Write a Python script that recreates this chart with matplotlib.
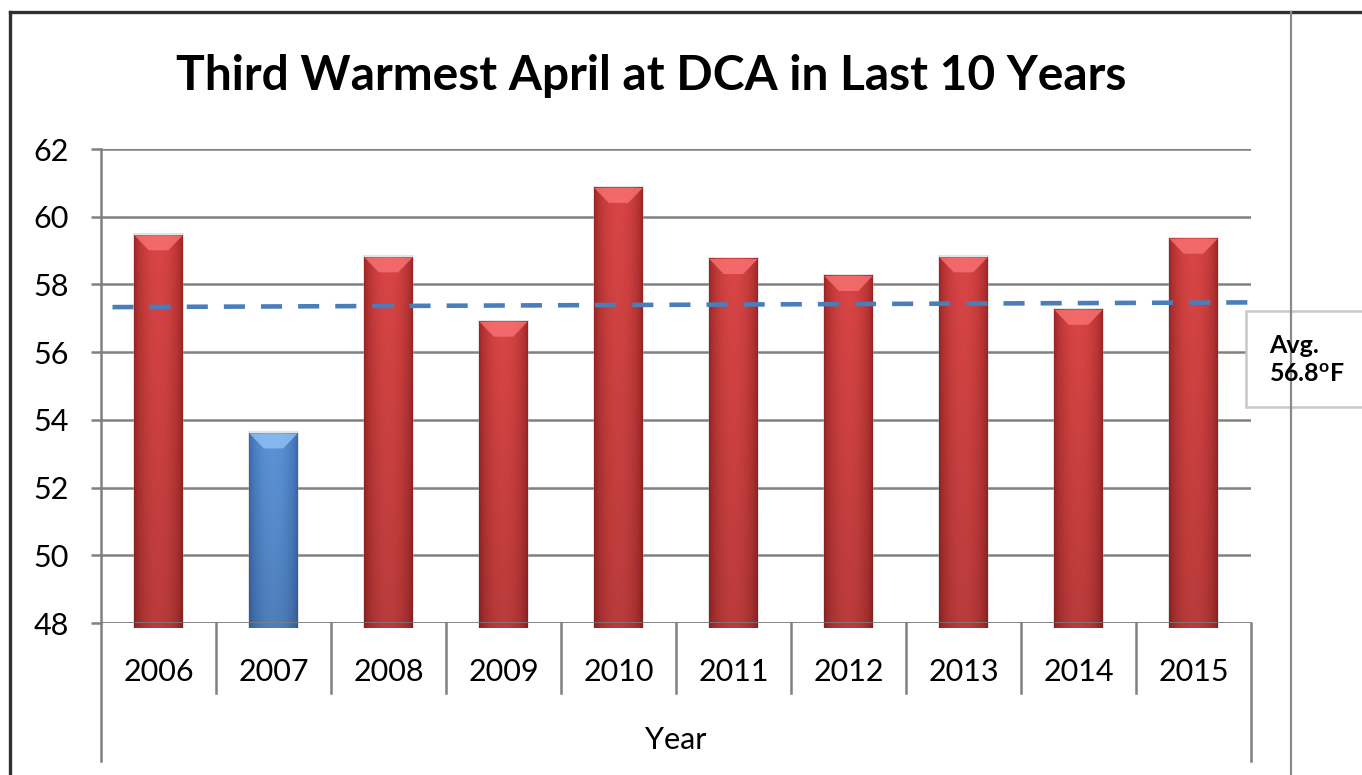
import numpy as np
import matplotlib
matplotlib.use("Agg")
import matplotlib.pyplot as plt
from matplotlib.patches import Rectangle, Polygon
from matplotlib.lines import Line2D
import matplotlib.transforms as mtransforms

plt.rcParams['font.family'] = ['Lato', 'DejaVu Sans']

# data
years = ['2006', '2007', '2008', '2009', '2010', '2011', '2012', '2013', '2014', '2015']
temps = [59.45, 53.6, 58.8, 56.9, 60.85, 58.75, 58.25, 58.8, 57.25, 59.35]
highlight = '2007'
trend_x = [-0.4, 9.53]
trend_y = [57.33, 57.47]
avg_text = 'Avg.\n56.8$^\\mathregular{o}$F'
y_ticks = [48, 50, 52, 54, 56, 58, 60, 62]

W, H = 1362, 775
fig = plt.figure(figsize=(W / 100, H / 100), dpi=100)
ax = fig.add_axes([101 / W, 1 - 623 / H, (1251 - 101) / W, (623 - 149) / H])

red_c = dict(center=np.array([0.85, 0.27, 0.27]), edge=np.array([0.60, 0.14, 0.14]),
             bevel=np.array([0.98, 0.45, 0.45]))
blue_c = dict(center=np.array([0.36, 0.58, 0.85]), edge=np.array([0.22, 0.40, 0.66]),
              bevel=np.array([0.56, 0.76, 0.96]))

def gradient_img(c):
	u = np.linspace(0, 1, 60)
	v = np.linspace(0, 1, 100)[:, None]		# 0 = bottom, 1 = top
	prof = np.sin(np.pi * u) ** 0.6
	img = c['edge'][None, None, :] + (c['center'] - c['edge'])[None, None, :] * prof[None, :, None]
	shade = 0.86 + 0.14 * v			# a bit darker near the base
	img = img * shade[:, :, None]
	return np.clip(img[::-1], 0, 1)

base = 47.85
width = 0.42
px_per_unit = (623 - 149) / 14.0
bars = ax.bar(range(len(years)), np.array(temps) - base, bottom=base, width=width,
              color='none', edgecolor='none', clip_on=False, zorder=3)
for i, (b, yr) in enumerate(zip(bars, years)):
	c = blue_c if yr == highlight else red_c
	x0, y0 = b.get_x(), b.get_y()
	w, h = b.get_width(), b.get_height()
	# soft shadow
	ax.add_patch(Rectangle((x0 - 0.012, y0), w + 0.024, h + 0.06, facecolor='#b0b0b0',
	                       alpha=0.35, edgecolor='none', zorder=2.5, clip_on=False))
	im = ax.imshow(gradient_img(c), extent=[x0, x0 + w, y0, y0 + h], aspect='auto',
	               zorder=3, interpolation='bilinear', clip_on=False)
	im.set_clip_path(b)
	bh = 15 / px_per_unit
	top = y0 + h
	ax.add_patch(Polygon([(x0, top), (x0 + w, top), (x0 + 0.7 * w, top - bh), (x0 + 0.3 * w, top - bh)],
	                     closed=True, facecolor=c['bevel'], edgecolor='none', alpha=0.8, zorder=3.2))

ax.set_xlim(-0.5, len(years) - 0.5)
ax.set_ylim(48, 62)

# gridlines
ax.set_yticks(y_ticks)
ax.yaxis.grid(True, color='#808080', linewidth=1.8)
ax.set_axisbelow(True)
for s in ['top', 'right', 'bottom']:
	ax.spines[s].set_visible(False)
ax.spines['left'].set_color('#808080')
ax.spines['left'].set_linewidth(1.8)
ax.tick_params(axis='y', length=7.2, width=1.8, color='#808080', pad=16, labelsize=22)
ax.axhline(48, color='#808080', linewidth=1.8, zorder=4)

# category axis
ax.set_xticks(range(len(years)))
ax.set_xticklabels(years)
ax.tick_params(axis='x', length=0, pad=35, labelsize=22)
plt.setp(ax.get_xticklabels(), va='center')

trans = mtransforms.blended_transform_factory(ax.transData, ax.transAxes)
y_sep = -(693 - 623) / (623 - 149)
y_out = -(761 - 623) / (623 - 149)
for k in range(1, len(years)):
	ax.add_line(Line2D([k - 0.5, k - 0.5], [0, y_sep], transform=trans, color='#808080',
	                   linewidth=1.8, clip_on=False))
for xe in [-0.5, len(years) - 0.5]:
	ax.add_line(Line2D([xe, xe], [0, y_out], transform=trans, color='#808080',
	                   linewidth=1.8, clip_on=False))
ax.text(0.5, -(740 - 623) / (623 - 149), 'Year', transform=ax.transAxes, ha='center', va='center',
        fontsize=22)

# dashed trend line
ax.plot(trend_x, trend_y, color='#4a7ebb', linewidth=3.3, dashes=(4.6, 3.5), zorder=5, clip_on=False)

# title
fig.text(651 / W, 1 - 76 / H, 'Third Warmest April at DCA in Last 10 Years', ha='center', va='center',
         fontsize=34.5, fontweight='bold')

# outer frame
fig.add_artist(Line2D([10 / W, 10 / W], [0, 1 - 12 / H], color='#303030', linewidth=2.4))
fig.add_artist(Line2D([10 / W, 1], [1 - 12 / H, 1 - 12 / H], color='#303030', linewidth=2.4))
fig.add_artist(Line2D([1291 / W, 1291 / W], [0, 1 - 12 / H], color='#8a8a8a', linewidth=1.6))

# average label box
fig.add_artist(Rectangle((1246 / W, 1 - 407 / H), (1370 - 1246) / W, (407 - 311) / H,
                         transform=fig.transFigure, facecolor='white', edgecolor='#c8c8c8', linewidth=1.8))
fig.text(1269 / W, 1 - 360 / H, avg_text, ha='left', va='center', fontsize=18, fontweight='bold',
         linespacing=1.3)

fig.savefig('out.png', dpi=100)
